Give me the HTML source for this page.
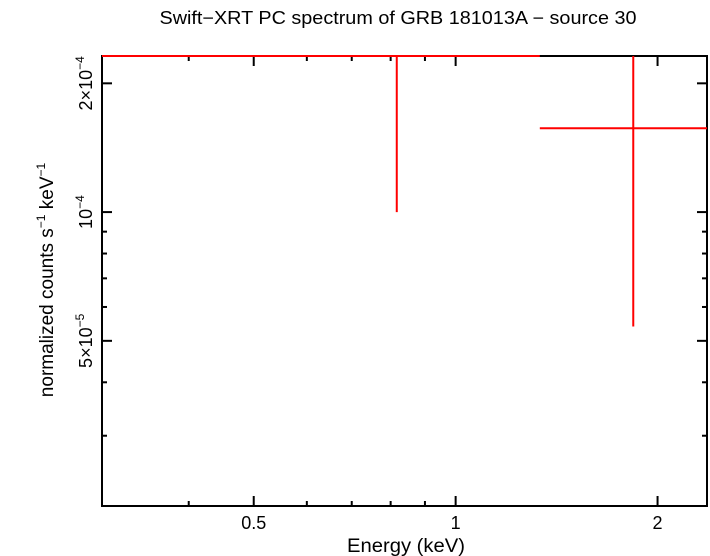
<!DOCTYPE html>
<html><head><meta charset="utf-8"><style>
html,body{margin:0;padding:0;background:#fff;}
svg{display:block;font-family:"Liberation Sans",sans-serif;}
</style></head><body>
<svg id="chart" width="710" height="556" viewBox="0 0 710 556">
<text x="398" y="24" font-size="18" text-anchor="middle" textLength="477" lengthAdjust="spacingAndGlyphs">Swift−XRT PC spectrum of GRB 181013A − source 30</text>
<g id="ticks"></g>
<rect x="102" y="56" width="605" height="450" fill="none" stroke="#000" stroke-width="2"/>
<g id="marks"></g>
<text x="406" y="552" font-size="19" text-anchor="middle" textLength="118" lengthAdjust="spacingAndGlyphs">Energy (keV)</text>
<text transform="translate(53,280) rotate(-90)" font-size="19" text-anchor="middle">normalized counts s<tspan dy="-8" font-size="12">−1</tspan><tspan dy="8"> keV</tspan><tspan dy="-8" font-size="12">−1</tspan></text>
</svg>
<script>
const xTickVals=[0.5,1,2];
const xTickLabels=["0.5","1","2"];
const xMinorVals=[0.3,0.4,0.6,0.7,0.8,0.9];
const yMinorVals=[3e-5,4e-5,6e-5,7e-5,8e-5,9e-5];
const yTickVals=[5e-5,1e-4,2e-4];
const energyLo=[0.297,1.335];
const energyHi=[1.335,2.37];
const energyMid=[0.817,1.84];
const flux=[2.32e-4,1.57e-4];
const fluxLo=[1.0e-4,5.4e-5];
const fluxHi=[2.5e-4,2.5e-4];

const X0=102,X1=707,Y0=56,Y1=506;
const xmin=0.297,xmax=2.37,ymin=2.055e-5,ymax=2.317e-4;
function xs(v){return X0+(Math.log(v)-Math.log(xmin))/(Math.log(xmax)-Math.log(xmin))*(X1-X0);}
function ys(v){return Y1-(Math.log(v)-Math.log(ymin))/(Math.log(ymax)-Math.log(ymin))*(Y1-Y0);}
const NS="http://www.w3.org/2000/svg";
const tg=document.getElementById('ticks'),mg=document.getElementById('marks');
function line(g,x1,y1,x2,y2,c,w,name){const l=document.createElementNS(NS,'line');
l.setAttribute('x1',x1);l.setAttribute('y1',y1);l.setAttribute('x2',x2);l.setAttribute('y2',y2);
l.setAttribute('stroke',c);l.setAttribute('stroke-width',w);


g.appendChild(l);return l;}
function clipY(y){return Math.max(Y0,Math.min(Y1,y));}
function clipX(x){return Math.max(X0,Math.min(X1,x));}
xTickVals.forEach((v,i)=>{const x=xs(v);
line(tg,x,Y1,x,Y1-10,'#000',2,'x-major-tick');line(tg,x,Y0,x,Y0+10,'#000',2,'x-major-tick-top');
const t=document.createElementNS(NS,'text');t.setAttribute('x',x);t.setAttribute('y',529);
t.setAttribute('font-size','18');t.setAttribute('text-anchor','middle');t.textContent=xTickLabels[i];


tg.appendChild(t);});
xMinorVals.forEach(v=>{const x=xs(v);if(x<X0+3)return;
line(tg,x,Y1,x,Y1-5,'#000',2,'x-minor-tick');line(tg,x,Y0,x,Y0+5,'#000',2,'x-minor-tick-top');});
yTickVals.forEach(v=>{const y=ys(v);
line(tg,X0,y,X0+10,y,'#000',2,'y-major-tick');line(tg,X1,y,X1-10,y,'#000',2,'y-major-tick-right');});
yMinorVals.forEach(v=>{const y=ys(v);
line(tg,X0,y,X0+5,y,'#000',2,'y-minor-tick');line(tg,X1,y,X1-5,y,'#000',2,'y-minor-tick-right');});
function ylab(v,html){const y=ys(v);const t=document.createElementNS(NS,'text');
t.setAttribute('transform','translate(92,'+y+') rotate(-90)');t.setAttribute('font-size','18');
t.setAttribute('text-anchor','middle');t.innerHTML=html;


tg.appendChild(t);}
ylab(yTickVals[0],'5×10<tspan dy="-8" font-size="12">−5</tspan>');
ylab(yTickVals[1],'10<tspan dy="-8" font-size="12">−4</tspan>');
ylab(yTickVals[2],'2×10<tspan dy="-8" font-size="12">−4</tspan>');
flux.forEach((f,i)=>{const y=clipY(ys(f));
line(mg,clipX(xs(energyLo[i])),y,clipX(xs(energyHi[i])),y,'#f00',2,'data-point-xerr');
line(mg,xs(energyMid[i]),clipY(ys(fluxLo[i])),xs(energyMid[i]),clipY(ys(fluxHi[i])),'#f00',2,'data-point-yerr');});
</script>
</body></html>
